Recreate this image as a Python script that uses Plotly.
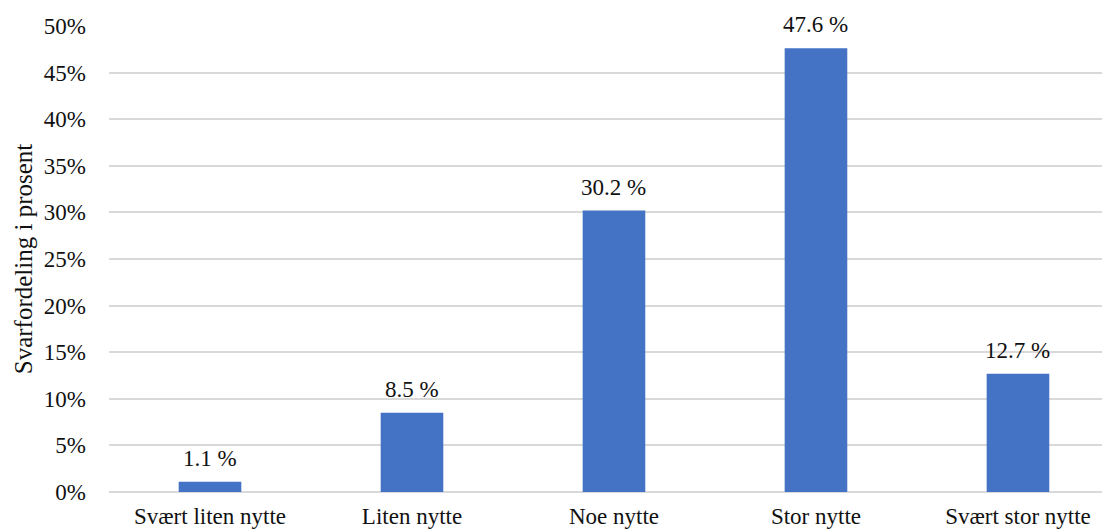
import plotly.graph_objects as go

categories = ["Svært liten nytte", "Liten nytte", "Noe nytte", "Stor nytte", "Svært stor nytte"]
values = [1.1, 8.5, 30.2, 47.6, 12.7]
tick_vals = [0, 5, 10, 15, 20, 25, 30, 35, 40, 45, 50]
tick_text = [f"{v}%" for v in tick_vals]

font_family = "Liberation Serif, Times New Roman, serif"
text_color = "#111111"

fig = go.Figure(
    go.Bar(
        x=list(range(len(categories))),
        y=values,
        width=0.31,
        marker=dict(color="#4472C4", line=dict(width=0)),
        cliponaxis=False,
        hoverinfo="skip",
    )
)

# value labels above each bar
for i, v in enumerate(values):
    fig.add_annotation(
        x=i,
        y=v,
        text=f"{v:.1f} %",
        showarrow=False,
        yanchor="bottom",
        yshift=9,
        font=dict(family=font_family, size=23, color=text_color),
    )

fig.update_layout(
    width=1102,
    height=532,
    margin=dict(l=109, r=0, t=26, b=40),
    paper_bgcolor="white",
    plot_bgcolor="white",
    showlegend=False,
    font=dict(family=font_family, size=23, color=text_color),
)

fig.update_xaxes(
    range=[-0.5, 4.416],
    tickmode="array",
    tickvals=list(range(len(categories))),
    ticktext=categories,
    showgrid=False,
    showline=False,
    zeroline=False,
    ticks="",
    automargin=False,
    ticklabelstandoff=8,
    tickfont=dict(family=font_family, size=23, color=text_color),
)

fig.update_yaxes(
    range=[0, 50],
    tickmode="array",
    tickvals=tick_vals,
    ticktext=tick_text,
    showgrid=True,
    gridcolor="#d9d9d9",
    gridwidth=1.5,
    zeroline=True,
    zerolinecolor="#d9d9d9",
    zerolinewidth=1.5,
    showline=False,
    ticks="",
    automargin=False,
    ticklabelstandoff=22,
    tickfont=dict(family=font_family, size=23, color=text_color),
    title=dict(text="Svarfordeling i prosent", font=dict(family=font_family, size=25, color=text_color), standoff=4),
)

fig.write_html("out.html")
